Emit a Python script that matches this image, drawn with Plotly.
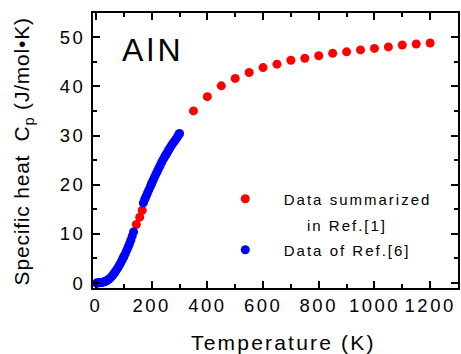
import plotly.graph_objects as go

# ---- data ----
# Data of Ref.[6] (blue), low-temperature run
blue_T1 = [2, 5, 10, 15, 20, 25, 30, 35, 40, 45, 50, 55, 60, 65, 70, 75, 80, 85,
           90, 95, 100, 105, 110, 115, 120, 125, 130, 135]
blue_C1 = [0.0, 0.02, 0.05, 0.08, 0.12, 0.18, 0.26, 0.38, 0.52, 0.72, 0.95, 1.25,
           1.6, 1.95, 2.35, 2.8, 3.25, 3.75, 4.25, 4.8, 5.35, 5.95, 6.6, 7.25,
           7.95, 8.7, 9.55, 10.4]
# Data of Ref.[6] (blue), upper run
blue_T2 = [170, 175, 180, 185, 190, 195, 200, 205, 210, 215, 220, 225, 230, 235,
           240, 245, 250, 255, 260, 265, 270, 275, 280, 285, 290, 295, 300]
blue_C2 = [16.3, 17.0, 17.65, 18.3, 18.95, 19.6, 20.25, 20.9, 21.5, 22.1, 22.7,
           23.3, 23.85, 24.45, 25.0, 25.5, 26.0, 26.45, 26.95, 27.4, 27.9, 28.3,
           28.7, 29.1, 29.5, 29.95, 30.4]
# Data summarized in Ref.[1] (red)
red_T = [100, 145, 157, 166, 200, 250, 298, 350, 400, 450, 500, 550, 600, 650,
         700, 750, 800, 850, 900, 950, 1000, 1050, 1100, 1150, 1200]
red_C = [5.4, 11.9, 13.4, 14.8, 20.3, 26.0, 30.2, 35.0, 37.9, 40.1, 41.6, 42.8,
         43.8, 44.5, 45.3, 45.7, 46.2, 46.7, 47.0, 47.4, 47.7, 48.0, 48.4, 48.6,
         48.8]

x_tick_vals = [0, 200, 400, 600, 800, 1000, 1200]
x_tick_labels = ["0", "200", "400", "600", "800", "1000", "1200"]
y_tick_vals = [0, 10, 20, 30, 40, 50]
y_tick_labels = ["0", "10", "20", "30", "40", "50"]

red_name = "Data summarized"
red_name2 = "in Ref.[1]"
blue_name = "Data of Ref.[6]"
material = "AlN"
x_title = "Temperature (K)"
y_title = "Specific heat\u00a0 C<sub>p</sub> (J/mol\u2022K)"

FONT = "Liberation Sans, Arial, sans-serif"

W, H = 461, 354
ML, MR, MT, MB = 93, 1, 13, 66
PW = W - ML - MR
PH = H - MT - MB


def sp(t, ls):
    return f"<span style='letter-spacing:{ls}px'>{t}</span>"


def px(xpix):
    return (xpix - ML) / PW


def py(ypix):
    return (H - MB - ypix) / PH


blue_T = blue_T1 + [None] + blue_T2
blue_C = blue_C1 + [None] + blue_C2

fig = go.Figure()
fig.add_trace(go.Scatter(
    x=red_T, y=red_C, mode="markers", name=sp("\u00a0\u00a0\u00a0" + red_name, 2),
    marker=dict(color="#FF0000", size=9), legend="legend"))
fig.add_trace(go.Scatter(
    x=blue_T, y=blue_C, mode="markers", name=sp("\u00a0\u00a0\u00a0" + blue_name, 2),
    marker=dict(color="#0000FF", size=9), legend="legend2"))

axis_common = dict(
    showline=True, linecolor="black", linewidth=2, mirror="allticks",
    ticks="inside", ticklen=7, tickwidth=1.5, tickcolor="black",
    showgrid=False, zeroline=False,
    tickfont=dict(family=FONT, size=18.5, color="black"),
)

fig.update_xaxes(
    range=[-10.7, 1300], tickmode="array", tickvals=x_tick_vals,
    ticktext=[sp(t, 2.5) for t in x_tick_labels],
    minor=dict(dtick=100, tick0=0, ticks="inside", ticklen=4, tickwidth=1.5,
               tickcolor="black", showgrid=False),
    **axis_common)
fig.update_yaxes(
    range=[-1.0, 54.9], tickmode="array", tickvals=y_tick_vals,
    ticktext=[sp(t, 2.5) for t in y_tick_labels],
    ticklabelstandoff=2,
    minor=dict(dtick=5, tick0=0, ticks="inside", ticklen=4, tickwidth=1.5,
               tickcolor="black", showgrid=False),
    **axis_common)

leg_common = dict(
    xanchor="left", yanchor="middle", bgcolor="rgba(0,0,0,0)", borderwidth=0,
    font=dict(family=FONT, size=15, color="black"),
)

fig.update_layout(
    width=W, height=H,
    margin=dict(l=ML, r=MR, t=MT, b=MB),
    paper_bgcolor="white", plot_bgcolor="white",
    showlegend=True,
    legend=dict(x=px(226), y=py(199), **leg_common),
    legend2=dict(x=px(226), y=py(250), **leg_common),
    annotations=[
        dict(text=sp(material, 3.5), x=px(153), y=py(50), xref="paper", yref="paper",
             showarrow=False, xanchor="center", yanchor="middle",
             font=dict(family=FONT, size=32, color="black")),
        dict(text=sp(red_name2, 2), x=px(348), y=py(225.5), xref="paper", yref="paper",
             showarrow=False, xanchor="center", yanchor="middle",
             font=dict(family=FONT, size=15, color="black")),
        dict(text=sp(x_title, 2.2), x=px(285), y=py(342.5),
             xref="paper", yref="paper", showarrow=False,
             xanchor="center", yanchor="middle",
             font=dict(family=FONT, size=21, color="black")),
        dict(text=sp(y_title, 0.8), x=px(23), y=py(151),
             xref="paper", yref="paper", showarrow=False, textangle=-90,
             xanchor="center", yanchor="middle",
             font=dict(family=FONT, size=21, color="black")),
    ],
)

fig.write_html(
    "out.html",
    config={"displayModeBar": False},
    post_script="document.body.style.margin='0';document.body.style.overflow='hidden';",
)
